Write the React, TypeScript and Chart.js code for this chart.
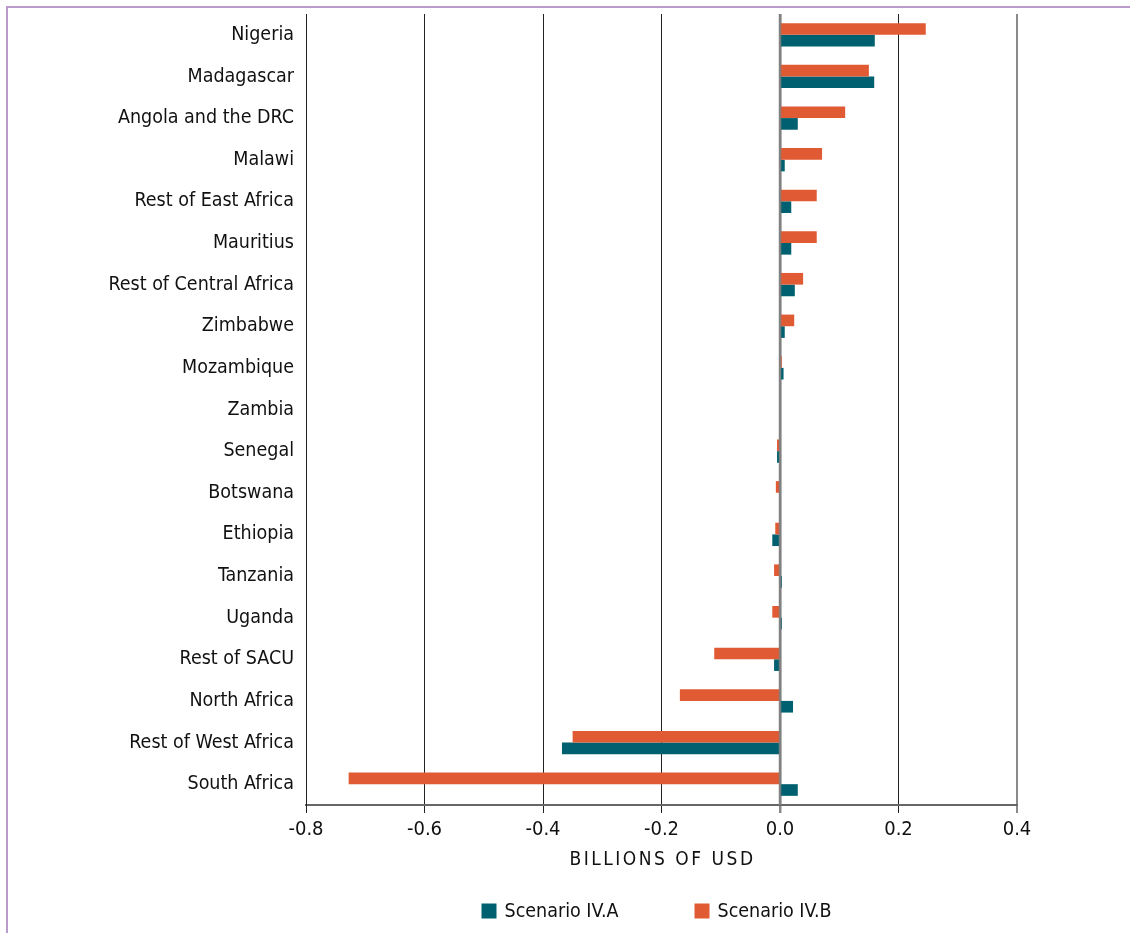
import React, { useEffect, useRef } from "react";
import { Chart, registerables } from "chart.js";

Chart.register(...registerables);

const categories = [
  "Nigeria",
  "Madagascar",
  "Angola and the DRC",
  "Malawi",
  "Rest of East Africa",
  "Mauritius",
  "Rest of Central Africa",
  "Zimbabwe",
  "Mozambique",
  "Zambia",
  "Senegal",
  "Botswana",
  "Ethiopia",
  "Tanzania",
  "Uganda",
  "Rest of SACU",
  "North Africa",
  "Rest of West Africa",
  "South Africa",
];

const scenarioIVA = [0.16, 0.159, 0.03, 0.008, 0.019, 0.019, 0.025, 0.008, 0.006, 0, -0.005, 0, -0.013, 0.003, 0.003, -0.01, 0.022, -0.368, 0.03];
const scenarioIVB = [0.246, 0.15, 0.11, 0.071, 0.062, 0.062, 0.039, 0.024, 0.003, 0, -0.005, -0.007, -0.008, -0.01, -0.013, -0.111, -0.169, -0.35, -0.728];

const seriesNames = ["Scenario IV.A", "Scenario IV.B"];
const seriesColors = ["#00606F", "#E05A33"];
const axisTitle = "BILLIONS OF USD";
const xMin = -0.8;
const xMax = 0.4;
const xStep = 0.2;

const FONT = "'DejaVu Sans Condensed', 'Liberation Sans Narrow', sans-serif";

const extrasPlugin = {
  id: "extras",
  afterDatasetsDraw(chart: any) {
    const { ctx, chartArea, scales } = chart;
    const x0 = scales.x.getPixelForValue(0);
    ctx.save();
    ctx.strokeStyle = "rgba(128,128,128,0.9)";
    ctx.lineWidth = 2.5;
    ctx.beginPath();
    ctx.moveTo(x0, chartArea.top);
    ctx.lineTo(x0, chartArea.bottom);
    ctx.stroke();
    ctx.restore();
  },
  afterDraw(chart: any) {
    const { ctx, chartArea } = chart;
    const cx = (chartArea.left + chartArea.right) / 2;
    ctx.save();
    // axis title with letter spacing
    ctx.font = `19px ${FONT}`;
    ctx.fillStyle = "#111";
    (ctx as any).letterSpacing = "2.5px";
    ctx.textAlign = "center";
    ctx.textBaseline = "middle";
    ctx.fillText(axisTitle, cx + 1, chartArea.bottom + 55);
    (ctx as any).letterSpacing = "0px";
    // legend
    ctx.font = `19.5px ${FONT}`;
    ctx.textAlign = "left";
    const box = 15;
    const gapText = 8;
    const starts = [cx - 180, cx + 33];
    const y = chartArea.bottom + 106;
    seriesNames.forEach((n, i) => {
      const x = starts[i];
      ctx.fillStyle = seriesColors[i];
      ctx.fillRect(x, y - box / 2, box, box);
      ctx.fillStyle = "#111";
      ctx.fillText(n, x + box + gapText, y + 1);
    });
    ctx.restore();
  },
};

export default function App() {
  const ref = useRef<HTMLCanvasElement>(null);
  useEffect(() => {
    if (!ref.current) return;
    const chart = new Chart(ref.current, {
      type: "bar",
      data: {
        labels: categories,
        datasets: [
          {
            label: seriesNames[1],
            data: scenarioIVB,
            backgroundColor: seriesColors[1],
            categoryPercentage: 0.56,
            barPercentage: 1,
          },
          {
            label: seriesNames[0],
            data: scenarioIVA,
            backgroundColor: seriesColors[0],
            categoryPercentage: 0.56,
            barPercentage: 1,
          },
        ],
      },
      options: {
        indexAxis: "y",
        animation: false,
        responsive: false,
        maintainAspectRatio: false,
        layout: { padding: { top: 6, right: 113, bottom: 88, left: 0 } },
        plugins: {
          legend: { display: false },
          tooltip: { enabled: false },
        },
        scales: {
          x: {
            min: xMin,
            max: xMax,
            ticks: {
              stepSize: xStep,
              font: { family: FONT, size: 20 },
              color: "#111",
              padding: 5,
              callback: (v: any) => Number(v).toFixed(1),
            },
            grid: {
              color: (c: any) => {
                const v = c.tick ? Math.round(c.tick.value * 10) / 10 : 0;
                return v === 0 || v === 0.4 ? "#8a8a8a" : "#222";
              },
              lineWidth: (c: any) => {
                const v = c.tick ? Math.round(c.tick.value * 10) / 10 : 0;
                return v === 0 ? 2.5 : v === 0.4 ? 2 : 1;
              },
              tickLength: 8,
            },
            border: { display: true, color: "#666", width: 2 },
            afterFit: (s: any) => {
              s.height = 40;
            },
          },
          y: {
            ticks: {
              font: { family: FONT, size: 19.5 },
              color: "#111",
              padding: 4,
            },
            grid: { display: false },
            border: { display: true, color: "#222", width: 1 },
            afterFit: (s: any) => {
              s.width = 298;
              s.paddingTop = 0;
              s.paddingBottom = 0;
            },
          },
        },
      },
      plugins: [extrasPlugin],
    });
    return () => chart.destroy();
  }, []);
  return (
    <div
      style={{
        position: "fixed",
        top: 6,
        left: 6,
        right: 0,
        bottom: 0,
        borderTop: "2px solid #b99bcc",
        borderLeft: "2px solid #b99bcc",
        background: "#fff",
      }}
    >
      <canvas ref={ref} width={1122} height={925} style={{ display: "block" }} />
    </div>
  );
}
